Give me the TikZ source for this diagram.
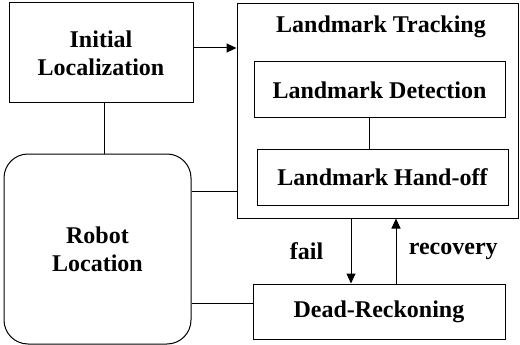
\documentclass[tikz,border=0pt]{standalone}
\usepackage{fontspec}
\setmainfont{Liberation Serif}
\usepackage{tikz}
\usetikzlibrary{arrows.meta,positioning,calc}

\tikzset{
	blk/.style={draw, line width=1pt, font=\bfseries\fontsize{24}{28}\selectfont, align=center, inner sep=0pt},
	lbl/.style={font=\bfseries\fontsize{24}{28}\selectfont},
	conn/.style={line width=1pt},
	flow/.style={line width=1pt, -{Triangle[length=10pt,width=9pt]}}
}

\begin{document}
\begin{tikzpicture}[x=1pt,y=-1pt]
\useasboundingbox (0,0) rectangle (520,345);

	\node[blk, minimum width=184pt, minimum height=100pt] (init) at (101,53) {Initial\\Localization};
	\node[blk, minimum width=281pt, minimum height=214pt] (track) at (377.5,111) {};
	\node[lbl] (tracktitle) at (381,27) {Landmark Tracking};
	\node[blk, minimum width=251pt, minimum height=56pt] (detect) at (379.5,90) {Landmark Detection};
	\node[blk, minimum width=251pt, minimum height=56pt] (handoff) at (382.5,177) {Landmark Hand-off};
	\node[blk, rounded corners=24pt, minimum width=187pt, minimum height=190pt] (robot) at (97.5,249) {Robot\\Location};
	\node[blk, minimum width=252pt, minimum height=55pt] (dead) at (379,311.5) {Dead-Reckoning};

	% links to the robot location
	\draw[flow] ([yshift=5pt]init.east) -- ([yshift=5pt]init.east -| track.west);
	\draw[conn] ([xshift=3pt]init.south) -- ([xshift=3pt]init.south |- robot.north);
	\draw[conn] ([yshift=58pt]robot.east) -- ([yshift=58pt]robot.east -| track.west);
	\draw[conn] ([yshift=-54pt]robot.east) -- ([yshift=-54pt]robot.east -| dead.west);
	\draw[conn] ([xshift=-10pt]detect.south) -- ([xshift=-10pt]detect.south |- handoff.north);

	% tracking <-> dead reckoning
	\draw[flow] ([xshift=-28pt]dead.north |- track.south) -- node[lbl, left=24pt] {fail} ([xshift=-28pt]dead.north);
	\draw[flow] ([xshift=17pt]dead.north) -- node[lbl, right=9pt] {recovery} ([xshift=17pt]dead.north |- track.south);
\end{tikzpicture}
\end{document}
